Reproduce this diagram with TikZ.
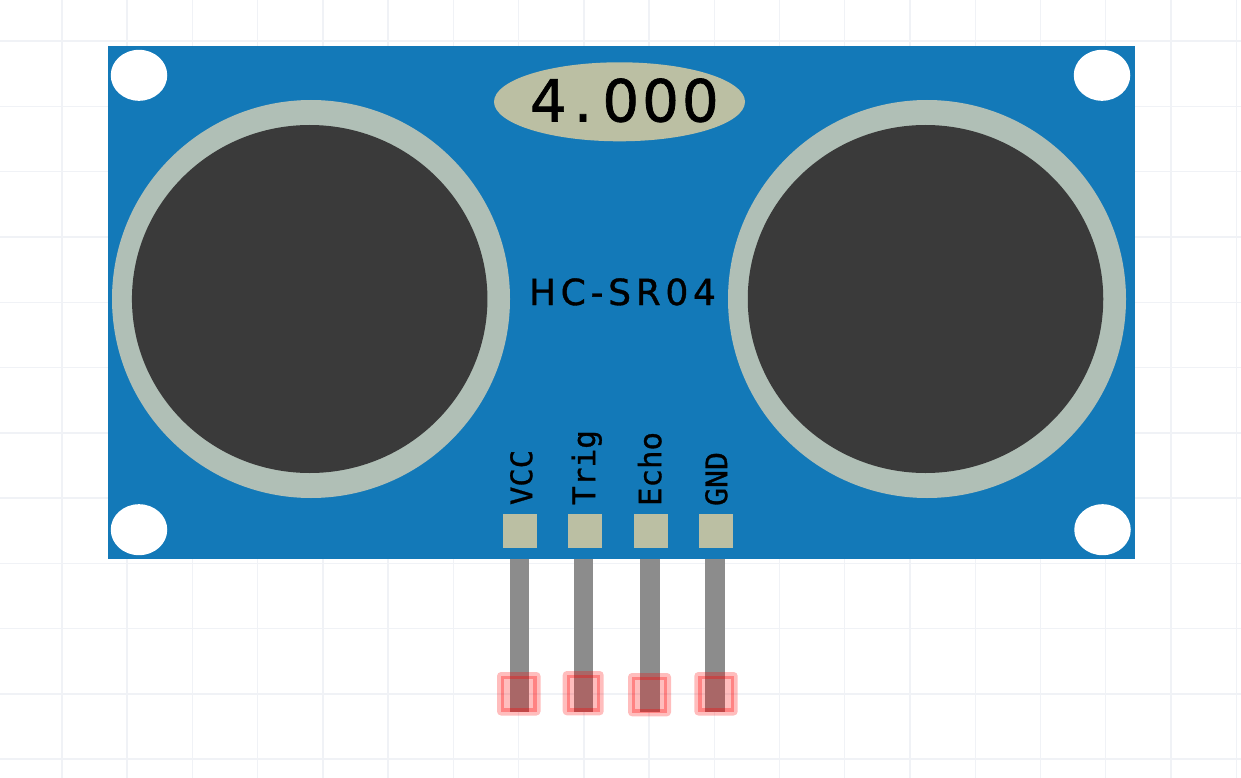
\documentclass[tikz,border=0pt]{standalone}
\usepackage{fontspec}
\setmonofont[FakeBold=1]{DejaVu Sans Mono}
\newfontfamily\dispfont[LetterSpace=5,FakeBold=1.2]{DejaVu Sans}
\newfontfamily\modelfont[LetterSpace=13,FakeBold=1]{DejaVu Sans}
\usetikzlibrary{shapes.geometric}
\definecolor{gridc}{HTML}{F0F2F6}
\definecolor{boardc}{HTML}{1379B8}
\definecolor{ringc}{HTML}{B0BFB6}
\definecolor{darkc}{HTML}{3A3A3A}
\definecolor{lcdc}{HTML}{BBBFA3}
\definecolor{pinc}{HTML}{8C8C8C}
\tikzset{
  shapebase/.style={inner sep=0pt,outer sep=0pt,draw=none},
  gridline/.style={draw=gridc,line width=1.4pt},
  board/.style={shapebase,rectangle,fill=boardc,minimum width=1027pt,minimum height=513pt},
  hole/.style={shapebase,ellipse,fill=white,minimum width=56.5pt,minimum height=51pt},
  ring/.style={shapebase,circle,fill=ringc,minimum size=398pt},
  cone/.style={shapebase,ellipse,fill=darkc,minimum width=355.5pt,minimum height=348pt},
  lcd/.style={shapebase,ellipse,fill=lcdc,minimum width=251pt,minimum height=79pt},
  pad/.style={shapebase,rectangle,fill=lcdc,minimum size=33.5pt},
  pinbar/.style={shapebase,rectangle,fill=pinc,minimum width=19.5pt,minimum height=153pt,anchor=north},
  silk/.style={inner sep=0pt,outer sep=0pt,text=black},
  pinlabel/.style={silk,rotate=90,anchor=mid west},
}
\begin{document}
\begin{tikzpicture}[x=1pt,y=-1pt]
\useasboundingbox (0,0) rectangle (1241,778);
\fill[white] (0,0) rectangle (1241,778);
\foreach \k in {0,...,18} \draw[gridline] ({61.9+65.24*\k},0) -- ({61.9+65.24*\k},778);
\foreach \k in {0,...,11} \draw[gridline] (0,{41.2+65.27*\k}) -- (1241,{41.2+65.27*\k});

\foreach \n/\x in {a/519.7,b/583.4,c/649.9,d/715.2}
  \node[pinbar] (pin\n) at (\x,559) {};

\node[board] (pcb) at (621,302.5) {};
\node[hole] (h1) at (139,75.3) {};
\node[hole] (h2) at (1102,75.3) {};
\node[hole] (h3) at (139,529.7) {};
\node[hole] (h4) at (1102.5,529.7) {};
\node[ring] (ringL) at (311,299) {};
\node[cone] (coneL) at (309.7,299) {};
\node[ring] (ringR) at (927,299) {};
\node[cone] (coneR) at (925.5,299) {};
\node[lcd] (lcd) at (619.5,101.8) {};
\node[silk,anchor=base west] (reading) at (530,121.5) {\fontsize{58}{58}\dispfont 4\kern7pt.\kern10pt 000};
\node[silk,anchor=base west] (model) at (529,305) {\fontsize{36}{36}\modelfont HC-SR04};

\node[pad] (p1) at (520.2,531.2) {};
\node[pad] (p2) at (584.8,531.2) {};
\node[pad] (p3) at (651.2,531.2) {};
\node[pad] (p4) at (715.8,531.2) {};

\node[pinlabel] at (530,505) (vcc) {\resizebox{55pt}{22pt}{\ttfamily VCC}};
\node[pinlabel] at (593,505) (trig) {\resizebox{75pt}{!}{\ttfamily Trig}};
\node[pinlabel] at (659,506) (echo) {\resizebox{74pt}{!}{\ttfamily Echo}};
\node[pinlabel] at (725,506) (gnd) {\resizebox{54pt}{22pt}{\ttfamily GND}};

\foreach \n/\xa/\ya/\xb/\yb in {a/497/672/540.5/715.5,b/562.7/671/603.7/715.3,c/628/673/671/716.3,d/694.3/672/737.7/715.5}{
  \fill[red,fill opacity=.26,rounded corners=4pt] (\xa,\ya) rectangle (\xb,\yb);
  \draw[red,draw opacity=.3,line width=3.4pt] ({\xa+5.5},{\ya+5.5}) rectangle ({\xb-5.5},{\yb-5.5});
}
\end{tikzpicture}
\end{document}
